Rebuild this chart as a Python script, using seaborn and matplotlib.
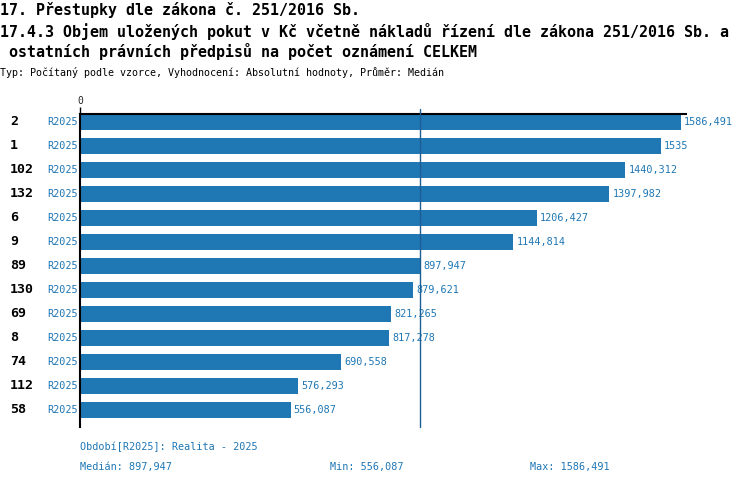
import matplotlib
matplotlib.use("Agg")
import matplotlib.pyplot as plt
import matplotlib.transforms as mtransforms
import seaborn as sns
import pandas as pd

# Objem uložených pokut - median by obec
categories = ['2', '1', '102', '132', '6', '9', '89', '130', '69', '8', '74', '112', '58']
values = [1586.491, 1535, 1440.312, 1397.982, 1206.427, 1144.814, 897.947,
          879.621, 821.265, 817.278, 690.558, 576.293, 556.087]
period = 'R2025'
median_val = 897.947
min_val = 556.087
max_val = 1586.491

title_lines = ['17. Přestupky dle zákona č. 251/2016 Sb.',
               '17.4.3 Objem uložených pokut v Kč včetně nákladů řízení dle zákona 251/2016 Sb. a',
               ' ostatních právních předpisů na počet oznámení CELKEM']
subtitle = 'Typ: Počítaný podle vzorce, Vyhodnocení: Absolutní hodnoty, Průměr: Medián'

BLUE = '#1f77b4'
MONO = ['DejaVu Sans Mono']

sns.set_theme(style="white")
plt.rcParams['font.family'] = MONO


def fmt(v):
    s = f"{v:.3f}".rstrip('0').rstrip('.')
    return s.replace('.', ',')


df = pd.DataFrame({'obec': categories, 'value': values})

fig = plt.figure(figsize=(7.5, 4.86), dpi=100)
W, H = 750, 486
ax = fig.add_axes([80 / W, 1 - 427 / H, 606 / W, 313 / H])

sns.barplot(data=df, x='value', y='obec', order=categories, color=BLUE,
            saturation=1, width=0.7, linewidth=0, ax=ax)

ax.set_xlim(0, 1600.6)
ax.set_ylim(12.71, -0.333)
ax.set_xlabel('')
ax.set_ylabel('')
ax.set_yticks([])
ax.xaxis.tick_top()
ax.set_xticks([0])
ax.set_xticklabels(['0'])
ax.tick_params(axis='x', length=5, width=1, color='black', pad=1, labelsize=7, top=True, bottom=False)
for s in ['right', 'bottom']:
    ax.spines[s].set_visible(False)
for s in ['top', 'left']:
    ax.spines[s].set_color('black')
    ax.spines[s].set_linewidth(1.5)

# median line
ax.plot([median_val, median_val], [-0.54, 12.71], color='#1a5f94', lw=1, clip_on=False, zorder=5)

# labels
trans = mtransforms.blended_transform_factory(fig.transFigure, ax.transData)
for i, (c, v) in enumerate(zip(categories, values)):
    ax.text(10 / W, i, c, transform=trans, ha='left', va='center',
            fontsize=9.5, fontweight='bold', color='black')
    ax.text(47 / W, i, period, transform=trans, ha='left', va='center',
            fontsize=7.3, color=BLUE)
    ax.text(v + 8, i, fmt(v), ha='left', va='center', fontsize=7.3, color=BLUE)

# titles
for k, line in enumerate(title_lines):
    fig.text(0, 1 - (10 + 21 * k) / H, line, ha='left', va='center',
             fontsize=10.8, fontweight='bold', color='black')
fig.text(0, 1 - 73 / H, subtitle, ha='left', va='center', fontsize=7.2, color='black')

# footer
fig.text(80 / W, 1 - 447 / H, f'Období[{period}]: Realita - 2025', ha='left', va='center',
         fontsize=7.3, color=BLUE)
fig.text(80 / W, 1 - 467 / H, f'Medián: {fmt(median_val)}', ha='left', va='center',
         fontsize=7.3, color=BLUE)
fig.text(330 / W, 1 - 467 / H, f'Min: {fmt(min_val)}', ha='left', va='center',
         fontsize=7.3, color=BLUE)
fig.text(530 / W, 1 - 467 / H, f'Max: {fmt(max_val)}', ha='left', va='center',
         fontsize=7.3, color=BLUE)

fig.savefig('out.png', dpi=100)
